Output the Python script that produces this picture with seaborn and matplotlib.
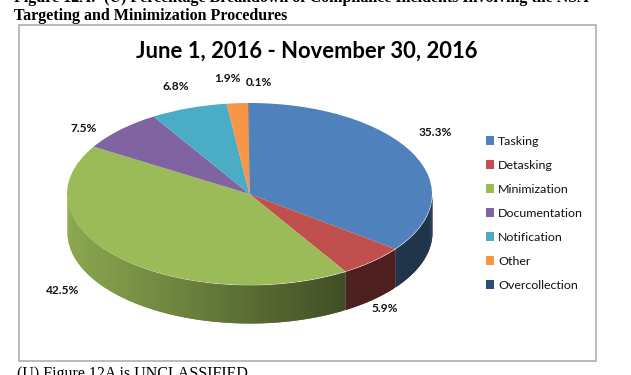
import numpy as np
import matplotlib
matplotlib.use("Agg")
import matplotlib.pyplot as plt
from matplotlib.patches import Rectangle
import seaborn as sns

categories = ["Tasking", "Detasking", "Minimization", "Documentation", "Notification", "Other", "Overcollection"]
values = [35.3, 5.9, 42.5, 7.5, 6.8, 1.9, 0.1]
value_labels = ["35.3%", "5.9%", "42.5%", "7.5%", "6.8%", "1.9%", "0.1%"]
colors = ["#4f81bd", "#c0504d", "#9bbb59", "#8064a2", "#4bacc6", "#f79646", "#2c4d75"]
title = "June 1, 2016 - November 30, 2016"
caption_lines = ["Figure 12A:  (U) Percentage Breakdown of Compliance Incidents Involving the NSA",
                 "Targeting and Minimization Procedures"]
footer = "(U) Figure 12A is UNCLASSIFIED"

W, H = 631, 375
CX, CY, RX, RY, DEPTH = 249.5, 194.0, 182.5, 91.0, 38.0
label_px = [(435, 132), (385, 308), (63, 291), (84, 129), (176, 86), (227, 79), (259, 83)]

sns.set_theme(style="white", palette=colors)
plt.rcParams["font.family"] = ["Lato", "DejaVu Sans"]

fig = plt.figure(figsize=(W / 100, H / 100), dpi=100, facecolor="white")
ax = fig.add_axes([0, 0, 1, 1])

# frame
fig.add_artist(Rectangle((18.5 / W, 1 - 360.5 / H), 577 / W, 336 / H, transform=fig.transFigure,
                         fill=False, edgecolor="#a8a8a8", linewidth=1.1))

# side wall, shaded by horizontal position; strips overlap to hide seams
d = DEPTH / RY
edges = np.concatenate([[0], np.cumsum(values)]) / sum(values) * 2 * np.pi
for i, col in enumerate(colors):
    a0, a1 = max(edges[i], np.pi / 2), min(edges[i + 1], 3 * np.pi / 2)
    if a1 <= a0:
        continue
    n = max(2, int((a1 - a0) * 60))
    th = np.linspace(a0, a1, n + 1)
    rgb = np.array(matplotlib.colors.to_rgb(col))
    mids = []
    for k in range(n):
        xm = (np.sin(th[k]) + np.sin(th[k + 1])) / 2
        mids.append((xm, k))
    # draw from the left so that each strip is overlapped by the next one to the right
    for xm, k in sorted(mids):
        tt = (xm + 1) / 1.53
        f = max(0.40, 0.90 - 0.48 * tt)
        c = tuple(rgb * f)
        lo = th[k]
        hi = th[k + 1]
        tl = np.linspace(lo, min(hi + (hi - lo), a1), 4) if np.sin(hi) < np.sin(lo) else np.linspace(max(lo - (hi - lo), a0), hi, 4)
        xs = np.sin(tl)
        ys = np.cos(tl)
        order = np.argsort(xs)
        ax.fill_between(xs[order], ys[order] - d, ys[order], color=c, linewidth=0, zorder=1)

# top face
wedges, _ = ax.pie(values, colors=colors, startangle=90, counterclock=False, radius=1.0,
                   wedgeprops={"linewidth": 0})
for w in wedges:
    w.set_zorder(2)
ax.set_aspect("auto")
ax.set_xlim((0 - CX) / RX, (W - CX) / RX)
ax.set_ylim((CY - H) / RY, CY / RY)
ax.axis("off")

for (px, py), s in zip(label_px, value_labels):
    fig.text(px / W, 1 - py / H, s, ha="center", va="center", fontsize=8.6,
             fontweight="bold", color="#111111")

fig.text(306.5 / W, 1 - 51 / H, title, ha="center", va="center", fontsize=15.8,
         fontweight="bold", color="black")

serif = "Liberation Serif"
fig.text(14 / W, 1 - (-1.5) / H, caption_lines[0], ha="left", va="center", fontsize=11.5,
         fontweight="bold", family=serif, color="black")
fig.text(14 / W, 1 - 15.5 / H, caption_lines[1], ha="left", va="center", fontsize=11.5,
         fontweight="bold", family=serif, color="black")
fig.text(17 / W, 1 - 374 / H, footer, ha="left", va="center", fontsize=11.5,
         family=serif, color="black")

leg = ax.legend(wedges, categories, loc="upper left",
                bbox_to_anchor=(486 / W, 1 - 136 / H), bbox_transform=fig.transFigure,
                frameon=False, fontsize=8.9, labelspacing=1.05, handlelength=0.68,
                handleheight=0.68, handletextpad=0.3, borderpad=0, borderaxespad=0,
                labelcolor="#111111")

fig.savefig("out.png", dpi=100, facecolor="white")
